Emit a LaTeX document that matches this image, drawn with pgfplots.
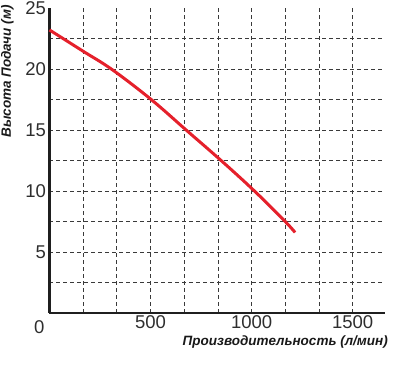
\documentclass[border=0pt]{standalone}
\usepackage{pgfplots}
\pgfplotsset{compat=1.18}
\usepackage{fontspec}
\setmainfont{Liberation Sans}
\definecolor{curvered}{HTML}{E5202B}
\definecolor{gridgray}{HTML}{3A3A3A}
\begin{document}
\begin{tikzpicture}[x=1pt,y=1pt]
\useasboundingbox (0,0) rectangle (400,366);
\begin{axis}[
  at={(49.5pt,53pt)}, anchor=south west,
  scale only axis, width=335.5pt, height=305pt,
  xmin=0, xmax=1660, ymin=0, ymax=25,
  axis x line*=bottom, axis y line*=left,
  axis line style={line width=2.3pt, color=black!88},
  xtick={166.667,333.333,500,666.667,833.333,1000,1166.667,1333.333,1500},
  xticklabels={,,500,,,1000,,,1500},
  ytick={2.5,5,7.5,10,12.5,15,17.5,20,22.5},
  yticklabels={,5,,10,,15,,20,},
  extra y ticks={25}, extra y tick labels={25},
  extra tick style={grid=none},
  major tick length=0pt,
  grid=major,
  major grid style={gridgray, line width=0.8pt, dash pattern=on 4pt off 3pt},
  tick label style={font=\fontsize{18.5}{21}\selectfont, text=black!82},
  xticklabel style={yshift=1pt},
  /pgf/number format/assume math mode=true,
  clip=false,
]
\addplot[smooth, tension=0.6, color=curvered, line width=3pt] coordinates {
  (0,23.2) (167,21.45) (310,19.95) (503,17.5) (676,15.0) (849,12.5) (1014,10.0) (1166,7.5) (1215,6.6)
};
\end{axis}
\node[anchor=north east, inner sep=0pt, font=\fontsize{18.5}{21}\selectfont, text=black!82] at (44.5,46) {0};
\node[rotate=90, anchor=north east, inner sep=0pt, font=\fontsize{13.5}{15}\bfseries\itshape, text=black!90] at (1,361) {Высота Подачи (м)};
\node[anchor=north east, inner sep=0pt, font=\fontsize{13.5}{15}\bfseries\itshape, text=black!90] at (388,30) {Производительность (л/мин)};
\end{tikzpicture}
\end{document}
